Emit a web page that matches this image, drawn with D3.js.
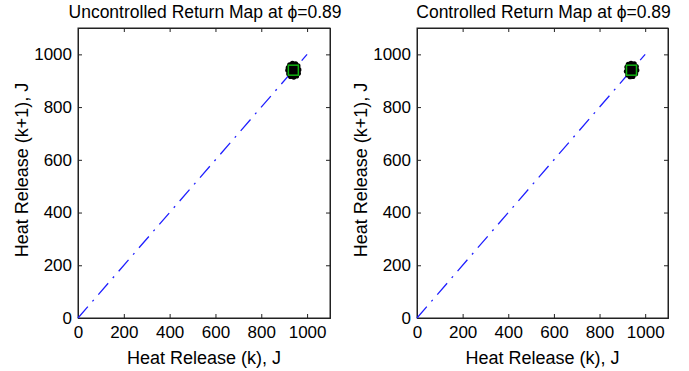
<!DOCTYPE html>
<html>
<head>
<meta charset="utf-8">
<script src="https://cdn.jsdelivr.net/npm/d3@7"></script>
<style>
  body { margin: 0; background: #fff; }
  text { font-family: "Liberation Sans", Arial, sans-serif; fill: #000; }
</style>
</head>
<body>
<div class="canvas"></div>
<script>
// data
const titles = ['Uncontrolled Return Map at \u03D5=0.89', 'Controlled Return Map at \u03D5=0.89']
const ticks = [0, 200, 400, 600, 800, 1000]
const domainMax = 1100
const diagonal = [0, 1000]
const fixedPoint = [940, 940]

// uncontrolled cycles: heat release k and k+1
const uncK  = [918, 924, 936, 950, 960, 964, 962, 954, 942, 928, 920, 916, 930, 946, 956, 940, 934, 948, 926, 932, 944, 938, 950, 928, 942, 936, 946]
const uncK1 = [950, 960, 966, 964, 956, 942, 928, 918, 914, 916, 926, 940, 944, 952, 934, 930, 956, 922, 936, 948, 938, 940, 944, 930, 950, 928, 932]
// controlled cycles
const conK  = [920, 926, 938, 952, 961, 963, 958, 946, 934, 924, 918, 930, 948, 940, 944, 932, 936, 950, 928, 942, 938, 946, 930]
const conK1 = [952, 962, 966, 964, 954, 940, 926, 916, 915, 922, 936, 948, 950, 932, 942, 940, 930, 944, 938, 952, 946, 934, 928]

const width = 689, height = 371
const svg = d3.select('.canvas').append('svg')
    .attr('width', width)
    .attr('height', height)

const panels = [
    { left: 78, right: 330, k: uncK, k1: uncK1, title: titles[0] },
    { left: 417, right: 668, k: conK, k1: conK1, title: titles[1] }
]
const plotTop = 28, plotBottom = 318

panels.forEach(p => {
    const x = d3.scaleLinear().domain([0, domainMax]).range([p.left, p.right])
    const y = d3.scaleLinear().domain([0, domainMax]).range([plotBottom, plotTop])
    const g = svg.append('g')

    // box
    g.append('rect')
        .attr('x', p.left).attr('y', plotTop)
        .attr('width', p.right - p.left).attr('height', plotBottom - plotTop)
        .attr('fill', 'none').attr('stroke', '#222').attr('stroke-width', 1)

    // axes with inward ticks
    const fmt = d3.format('d')
    const xAxis = d3.axisBottom(x).tickValues(ticks).tickSize(-4).tickPadding(8).tickFormat(fmt)
    const yAxis = d3.axisLeft(y).tickValues(ticks).tickSize(-4).tickPadding(6).tickFormat(fmt)
    g.append('g').attr('transform', `translate(0,${plotBottom})`).call(xAxis)
    g.append('g').attr('transform', `translate(${p.left},0)`).call(yAxis)
    g.append('g').attr('transform', `translate(0,${plotTop})`)
        .call(d3.axisTop(x).tickValues(ticks).tickSize(-4).tickFormat(''))
    g.append('g').attr('transform', `translate(${p.right},0)`)
        .call(d3.axisRight(y).tickValues(ticks).tickSize(-4).tickFormat(''))
    g.selectAll('.domain').attr('stroke', '#222')
    g.selectAll('.tick line').attr('stroke', '#222')
    g.selectAll('.tick text').style('font-size', '17px')
        .style('font-family', '"Liberation Sans", Arial, sans-serif').attr('fill', '#000')

    // diagonal
    g.append('line')
        .attr('x1', x(diagonal[0])).attr('y1', y(diagonal[0]))
        .attr('x2', x(diagonal[1])).attr('y2', y(diagonal[1]))
        .attr('stroke', '#1f1fff').attr('stroke-width', 1.3)
        .attr('stroke-dasharray', '15,7,2,7')

    // cycle points
    g.selectAll('circle.pt')
        .data(d3.zip(p.k, p.k1))
        .enter().append('circle')
        .attr('class', 'pt')
        .attr('cx', d => x(d[0]))
        .attr('cy', d => y(d[1]))
        .attr('r', 2.6)
        .attr('fill', '#000')

    // fixed point marker
    g.append('rect')
        .attr('x', x(fixedPoint[0]) - 5).attr('y', y(fixedPoint[1]) - 5)
        .attr('width', 10).attr('height', 10)
        .attr('fill', 'none').attr('stroke', '#10b010').attr('stroke-width', 1.5)

    // title & labels
    g.append('text')
        .attr('x', (p.left + p.right) / 2 + 1).attr('y', 18)
        .attr('text-anchor', 'middle').style('font-size', '17.5px')
        .text(p.title)
    g.append('text')
        .attr('x', (p.left + p.right) / 2).attr('y', 364)
        .attr('text-anchor', 'middle').style('font-size', '18px')
        .text('Heat Release (k), J')
    g.append('text')
        .attr('transform', `translate(${p.left - 50},170) rotate(-90)`)
        .attr('text-anchor', 'middle').style('font-size', '18px')
        .text('Heat Release (k+1), J')
})
</script>
</body>
</html>
